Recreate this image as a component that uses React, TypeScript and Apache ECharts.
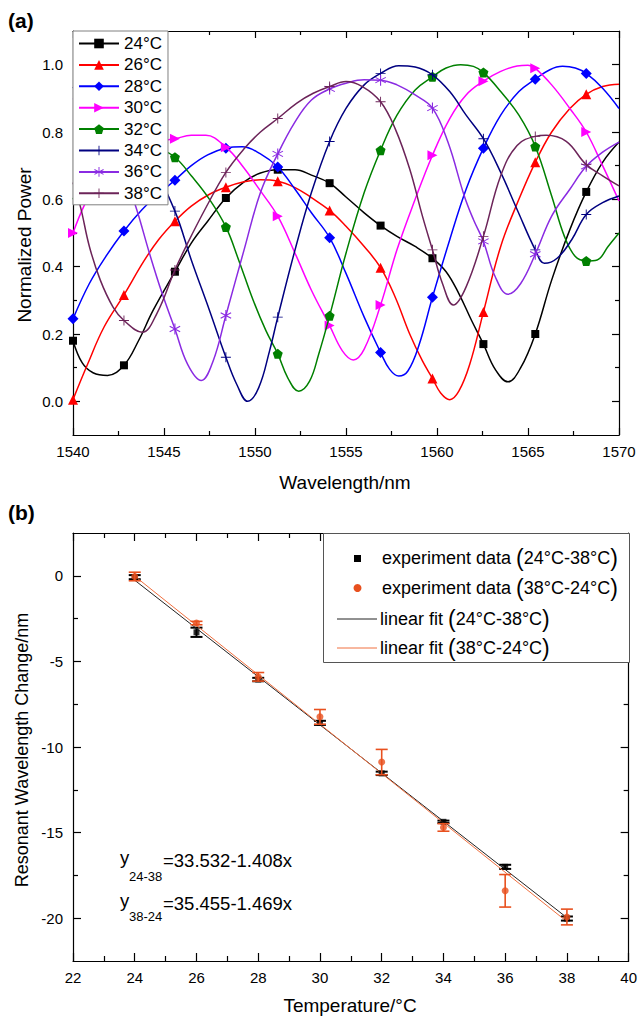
import React, { useEffect, useRef } from 'react';
import * as echarts from 'echarts';

const FONT = "'Liberation Sans', Arial, Helvetica, sans-serif";

// ---------- (a) spectra ----------
const MARKER_X = [1540, 1542.8, 1545.6, 1548.4, 1551.25, 1554.1, 1556.9, 1559.75, 1562.55, 1565.4, 1568.2];

const C24 = [[1540,0.18],[1540.5,0.115],[1541.1,0.085],[1541.9,0.077],[1542.8,0.107],[1543.6,0.18],[1544.4,0.27],[1545.6,0.385],[1546.5,0.47],[1547.4,0.535],[1548.4,0.604],[1549.4,0.652],[1550.3,0.678],[1551.25,0.688],[1552.2,0.688],[1553.1,0.672],[1554.1,0.648],[1555,0.607],[1556,0.56],[1556.9,0.522],[1557.8,0.49],[1558.8,0.46],[1559.75,0.425],[1560.5,0.385],[1561.2,0.32],[1561.9,0.24],[1562.55,0.17],[1563.2,0.095],[1563.9,0.058],[1564.6,0.1],[1565.4,0.2],[1566.3,0.36],[1567.3,0.51],[1568.2,0.622],[1569.1,0.71],[1570,0.77]];
const C26 = [[1540,0.005],[1540.8,0.11],[1541.7,0.22],[1542.8,0.316],[1543.9,0.417],[1544.7,0.48],[1545.6,0.535],[1546.5,0.58],[1547.5,0.615],[1548.4,0.636],[1549.4,0.652],[1550.3,0.658],[1551.25,0.654],[1552.2,0.635],[1553.1,0.605],[1554.1,0.567],[1555,0.52],[1556,0.46],[1556.9,0.397],[1557.7,0.31],[1558.5,0.2],[1559.2,0.12],[1559.75,0.068],[1560.2,0.025],[1560.7,0.005],[1561.2,0.03],[1561.8,0.11],[1562.55,0.265],[1563.5,0.46],[1564.5,0.6],[1565.4,0.71],[1566.3,0.8],[1567.3,0.87],[1568.2,0.912],[1569.1,0.935],[1570,0.942]];
const C28 = [[1540,0.245],[1540.9,0.35],[1541.8,0.43],[1542.8,0.506],[1543.8,0.57],[1544.7,0.615],[1545.6,0.657],[1546.5,0.7],[1547.4,0.732],[1548.4,0.752],[1549.3,0.756],[1550.3,0.735],[1551.25,0.696],[1552.2,0.63],[1553.1,0.56],[1554.1,0.486],[1555,0.38],[1556,0.25],[1556.9,0.145],[1557.4,0.095],[1557.9,0.075],[1558.4,0.09],[1559,0.165],[1559.75,0.309],[1560.7,0.48],[1561.6,0.63],[1562.55,0.752],[1563.5,0.85],[1564.5,0.92],[1565.4,0.957],[1566.2,0.985],[1566.9,0.995],[1567.6,0.99],[1568.2,0.974],[1569.1,0.93],[1570,0.87]];
const C30 = [[1540,0.5],[1540.6,0.58],[1541.5,0.67],[1542.8,0.735],[1544,0.765],[1545.6,0.78],[1546.5,0.79],[1547.3,0.79],[1548.4,0.755],[1549.3,0.7],[1550.3,0.625],[1551.25,0.55],[1552.2,0.44],[1553.1,0.33],[1554.1,0.225],[1554.8,0.15],[1555.4,0.123],[1556,0.155],[1556.9,0.286],[1557.8,0.45],[1558.8,0.6],[1559.75,0.731],[1560.7,0.84],[1561.6,0.91],[1562.55,0.951],[1563.5,0.98],[1564.4,0.996],[1565,0.998],[1565.4,0.989],[1566.3,0.94],[1567.3,0.87],[1568.2,0.8],[1569.1,0.7],[1570,0.595]];
const C32 = [[1540,0.6],[1541,0.7],[1542.2,0.76],[1542.8,0.772],[1543.6,0.775],[1544.6,0.755],[1545.6,0.725],[1546.5,0.67],[1547.5,0.6],[1548.4,0.518],[1549.1,0.42],[1549.9,0.3],[1550.6,0.21],[1551.25,0.141],[1551.8,0.07],[1552.4,0.03],[1553,0.06],[1553.5,0.14],[1554.1,0.254],[1555,0.44],[1556,0.62],[1556.9,0.746],[1557.8,0.85],[1558.8,0.925],[1559.75,0.964],[1560.5,0.99],[1561.3,1.0],[1562,0.995],[1562.55,0.977],[1563.5,0.92],[1564.5,0.85],[1565.4,0.757],[1566.3,0.61],[1567,0.49],[1567.6,0.43],[1568.2,0.417],[1568.8,0.42],[1569.4,0.46],[1570,0.5]];
const C34 = [[1540,0.93],[1540.9,0.97],[1541.7,0.97],[1542.8,0.88],[1544,0.75],[1545.6,0.565],[1546.5,0.42],[1547.5,0.27],[1548.4,0.131],[1549,0.05],[1549.6,0.0],[1550.2,0.04],[1550.8,0.15],[1551.25,0.25],[1552.2,0.45],[1553.1,0.62],[1554.1,0.772],[1555,0.87],[1556,0.94],[1556.9,0.974],[1557.9,0.997],[1558.8,0.993],[1559.75,0.97],[1560.7,0.92],[1561.6,0.85],[1562.55,0.78],[1563.5,0.68],[1564.4,0.57],[1565.4,0.45],[1565.9,0.41],[1566.6,0.425],[1567.4,0.48],[1568.2,0.555],[1569.1,0.59],[1570,0.61]];
const C36 = [[1540,0.9],[1541.3,0.84],[1542.3,0.74],[1542.8,0.68],[1543.5,0.57],[1544.2,0.44],[1544.9,0.32],[1545.6,0.215],[1546.3,0.11],[1547.05,0.062],[1547.7,0.12],[1548.4,0.255],[1549.4,0.45],[1550.3,0.62],[1551.25,0.735],[1552.2,0.83],[1553.1,0.895],[1554.1,0.928],[1555,0.945],[1556,0.955],[1556.9,0.954],[1557.8,0.94],[1558.8,0.91],[1559.75,0.871],[1560.6,0.77],[1561.5,0.61],[1562,0.54],[1562.55,0.475],[1563.2,0.37],[1563.9,0.318],[1564.6,0.35],[1565.4,0.437],[1566.3,0.55],[1567.3,0.63],[1568.2,0.698],[1569.1,0.74],[1570,0.77]];
const C38 = [[1540,0.65],[1540.4,0.58],[1540.9,0.46],[1541.5,0.36],[1542.2,0.28],[1542.8,0.24],[1543.8,0.205],[1544.6,0.26],[1545.6,0.39],[1546.3,0.47],[1547.3,0.575],[1548.4,0.68],[1549.4,0.75],[1550.3,0.8],[1551.25,0.84],[1552.3,0.886],[1553.2,0.915],[1554.1,0.935],[1555,0.95],[1555.9,0.935],[1556.9,0.89],[1557.7,0.81],[1558.5,0.69],[1559.2,0.55],[1559.75,0.45],[1560.3,0.35],[1560.9,0.286],[1561.6,0.34],[1562.55,0.49],[1563.5,0.67],[1564.4,0.76],[1565.4,0.787],[1566,0.79],[1567.1,0.772],[1568.2,0.703],[1569.1,0.67],[1570,0.64]];

const SPECTRA_NAMES = ['24°C', '26°C', '28°C', '30°C', '32°C', '34°C', '36°C', '38°C'];
const SPECTRA_DATA = [C24, C26, C28, C30, C32, C34, C36, C38];
// whether the curve shows its symbol at the first wavelength (1540 nm)
const START_MARKER = [true, true, true, true, false, false, false, false];

const A_X_TICKS = { min: 1540, max: 1570, interval: 5 };
const A_Y_MAJOR = [0, 0.2, 0.4, 0.6, 0.8, 1.0];
const A_Y_MINOR = [0.1, 0.3, 0.5, 0.7, 0.9];

// ---------- (b) temperature ----------
const TEMPS = [24, 26, 28, 30, 32, 34, 36, 38];
const UP_MEAN = [-0.08, -3.3, -6.06, -8.59, -11.54, -14.37, -17.0, -20.02];
const UP_ERR = [0.12, 0.27, 0.1, 0.12, 0.1, 0.07, 0.12, 0.12];
const DOWN_MEAN = [-0.04, -2.76, -5.9, -8.24, -10.88, -14.7, -18.4, -19.93];
const DOWN_ERR = [0.25, 0.1, 0.25, 0.43, 0.74, 0.22, 0.95, 0.46];
const FIT_UP = [[24, -0.26], [38, -19.97]];
const FIT_DOWN = [[24, -0.02], [38, -20.2]];
const B_Y_MAJOR = [-20, -15, -10, -5, 0];
const B_Y_MINOR = [-17.5, -12.5, -7.5, -2.5];

// ---------- styles ----------
const PENTAGON = 'path://M0,-1L0.951,-0.309L0.588,0.809L-0.588,0.809L-0.951,-0.309Z';
const RIGHT_TRI = 'path://M-0.8,-1L1,0L-0.8,1Z';
const PLUS = 'path://M-1,-0.09L1,-0.09L1,0.09L-1,0.09Z M-0.09,-1L0.09,-1L0.09,1L-0.09,1Z';
const STAR = 'path://M-0.09,1L0.09,1L0.09,-1L-0.09,-1Z M0.82,0.58L0.91,0.42L-0.82,-0.58L-0.91,-0.42Z M-0.91,0.42L-0.82,0.58L0.91,-0.42L0.82,-0.58Z';
const SPECTRA_STYLE = [
  { color: '#000000', symbol: 'rect', size: 8 },
  { color: '#ff0000', symbol: 'triangle', size: 10 },
  { color: '#0000ff', symbol: 'diamond', size: 11 },
  { color: '#ff00ff', symbol: RIGHT_TRI, size: 10 },
  { color: '#008000', symbol: PENTAGON, size: 10 },
  { color: '#000080', symbol: PLUS, size: 10 },
  { color: '#8a2be2', symbol: STAR, size: 11 },
  { color: '#6c2459', symbol: PLUS, size: 10 },
];
const ORANGE = '#e8501e';
const AX = { color: '#000', width: 1.2 };

const isMarker = (x: number, withStart: boolean) =>
  MARKER_X.some((m) => Math.abs(m - x) < 0.001) && (withStart || Math.abs(x - MARKER_X[0]) > 0.001);

function xPair(grid: number, min: number, max: number, interval: number, major: number, minor: number) {
  const base: any = {
    type: 'value', gridIndex: grid, min, max, interval,
    splitLine: { show: false },
    axisLine: { show: true, onZero: false, lineStyle: AX },
    axisTick: { show: true, inside: true, length: major, lineStyle: AX },
    minorTick: { show: true, splitNumber: 2, length: minor, lineStyle: AX },
    minorSplitLine: { show: false },
  };
  return [
    { ...base, position: 'bottom', axisLabel: { show: true, margin: 9, fontSize: 15, color: '#000', fontFamily: FONT, formatter: (v: number) => String(v) } },
    { ...base, position: 'top', axisLabel: { show: false } },
  ];
}

function yQuad(grid: number, min: number, max: number, majorV: number[], minorV: number[], major: number, minor: number, fmt: (v: number) => string) {
  const common: any = { type: 'value', gridIndex: grid, min, max, splitLine: { show: false } };
  const mk = (pos: string, vals: number[], len: number, line: boolean, label: boolean) => ({
    ...common,
    position: pos,
    axisLine: { show: line, onZero: false, lineStyle: AX },
    axisTick: { show: true, inside: true, length: len, lineStyle: AX, customValues: vals },
    axisLabel: label
      ? { show: true, customValues: vals, margin: 10, fontSize: 15, color: '#000', fontFamily: FONT, formatter: fmt }
      : { show: false },
  });
  return [
    mk('left', majorV, major, true, true),
    mk('left', minorV, minor, false, false),
    mk('right', majorV, major, true, false),
    mk('right', minorV, minor, false, false),
  ];
}

function errRender(color: string, width: number) {
  return (params: any, api: any) => {
    const x = api.value(0);
    const lo = api.coord([x, api.value(1)]);
    const hi = api.coord([x, api.value(2)]);
    const hw = 6;
    const st = { stroke: color, lineWidth: width };
    return {
      type: 'group',
      children: [
        { type: 'line', shape: { x1: lo[0], y1: lo[1], x2: hi[0], y2: hi[1] }, style: st },
        { type: 'line', shape: { x1: lo[0] - hw, y1: lo[1], x2: lo[0] + hw, y2: lo[1] }, style: st },
        { type: 'line', shape: { x1: hi[0] - hw, y1: hi[1], x2: hi[0] + hw, y2: hi[1] }, style: st },
      ],
    };
  };
}

function buildOption(): any {
  const spectraSeries = SPECTRA_NAMES.map((name, i) => {
    const s = SPECTRA_STYLE[i];
    return {
      type: 'line', name, xAxisIndex: 0, yAxisIndex: 0,
      smooth: 0.4, symbol: s.symbol, symbolSize: s.size, showSymbol: true, showAllSymbol: true,
      lineStyle: { color: s.color, width: 1.5 }, itemStyle: { color: s.color },
      data: SPECTRA_DATA[i].map(([x, y]) => (isMarker(x, START_MARKER[i]) ? [x, y] : { value: [x, y], symbol: 'none' })),
      silent: true, emphasis: { disabled: true }, z: 2 + i * 0.01,
    };
  });

  const bSeries = [
    { type: 'line', name: 'fitUp', xAxisIndex: 2, yAxisIndex: 4, data: FIT_UP, showSymbol: false, symbol: 'none', lineStyle: { color: '#222', width: 1 }, silent: true },
    { type: 'line', name: 'fitDown', xAxisIndex: 2, yAxisIndex: 4, data: FIT_DOWN, showSymbol: false, symbol: 'none', lineStyle: { color: '#f07040', width: 1 }, silent: true },
    { type: 'custom', name: 'errUp', xAxisIndex: 2, yAxisIndex: 4, encode: { x: 0, y: [1, 2] },
      data: TEMPS.map((t, i) => [t, UP_MEAN[i] - UP_ERR[i], UP_MEAN[i] + UP_ERR[i]]), renderItem: errRender('#000', 2), silent: true, z: 3 },
    { type: 'scatter', name: 'up', xAxisIndex: 2, yAxisIndex: 4, symbol: 'rect', symbolSize: 6, itemStyle: { color: '#000' },
      data: TEMPS.map((t, i) => [t, UP_MEAN[i]]), silent: true, z: 4 },
    { type: 'custom', name: 'errDown', xAxisIndex: 2, yAxisIndex: 4, encode: { x: 0, y: [1, 2] },
      data: TEMPS.map((t, i) => [t, DOWN_MEAN[i] - DOWN_ERR[i], DOWN_MEAN[i] + DOWN_ERR[i]]), renderItem: errRender(ORANGE, 1.6), silent: true, z: 5 },
    { type: 'scatter', name: 'down', xAxisIndex: 2, yAxisIndex: 4, symbol: 'circle', symbolSize: 7, itemStyle: { color: ORANGE },
      data: TEMPS.map((t, i) => [t, DOWN_MEAN[i]]), silent: true, z: 6 },
  ];

  const txt = (text: string, x: number, y: number, size: number, extra: any = {}) => ({
    type: 'text', x, y, z: 100,
    style: { text, fontSize: size, fontFamily: FONT, fill: '#000', textAlign: 'left', textVerticalAlign: 'middle', align: 'left', verticalAlign: 'middle', ...extra },
  });
  const centered = (text: string, x: number, y: number, size: number, rot = 0, extra: any = {}) => ({
    type: 'text', x, y, rotation: rot, z: 100,
    style: { text, fontSize: size, fontFamily: FONT, fill: '#000', textAlign: 'center', textVerticalAlign: 'middle', align: 'center', verticalAlign: 'middle', ...extra },
  });
  const rich = {
    t: { fontSize: 18, fontFamily: FONT, fill: '#000' },
    p: { fontSize: 23, fontFamily: FONT, fill: '#000' },
  };
  const legRow = (text: string, y: number, x: number) => ({
    type: 'text', x, y, z: 101,
    style: { text, rich, fontSize: 18, fontFamily: FONT, fill: '#000', textAlign: 'left', textVerticalAlign: 'middle', align: 'left', verticalAlign: 'middle' },
  });

  const graphic = [
    txt('(a)', 8, 20, 21, { fontWeight: 'bold' }),
    txt('(b)', 8, 512, 21, { fontWeight: 'bold' }),
    centered('Normalized Power', 24, 245, 19, Math.PI / 2),
    centered('Wavelength/nm', 345, 482, 19),
    centered('Resonant Wavelength Change/nm', 22, 750, 18, Math.PI / 2),
    centered('Temperature/°C', 350, 1005, 19),
    txt('y', 120, 857, 18.5),
    txt('24-38', 129, 876, 13),
    txt('=33.532-1.408x', 163, 860, 18.5),
    txt('y', 120, 900, 18.5),
    txt('38-24', 129, 916, 13),
    txt('=35.455-1.469x', 163, 903, 18.5),
    { type: 'rect', z: 99, shape: { x: 323.5, y: 533.5, width: 306, height: 129 }, style: { fill: '#fff', stroke: '#555', lineWidth: 1 } },
    { type: 'rect', z: 101, shape: { x: 354, y: 555, width: 7, height: 7 }, style: { fill: '#000' } },
    { type: 'circle', z: 101, shape: { cx: 357.5, cy: 588, r: 4 }, style: { fill: ORANGE } },
    { type: 'line', z: 101, shape: { x1: 337, y1: 619, x2: 377, y2: 619 }, style: { stroke: '#222', lineWidth: 1 } },
    { type: 'line', z: 101, shape: { x1: 337, y1: 648, x2: 377, y2: 648 }, style: { stroke: '#f07040', lineWidth: 1 } },
    legRow('{t|experiment data }{p|(}{t|24°C-38°C}{p|)}', 558, 382),
    legRow('{t|experiment data }{p|(}{t|38°C-24°C}{p|)}', 588, 382),
    legRow('{t|linear fit }{p|(}{t|24°C-38°C}{p|)}', 619, 380),
    legRow('{t|linear fit }{p|(}{t|38°C-24°C}{p|)}', 648, 380),
  ];

  return {
    animation: false,
    backgroundColor: '#fff',
    textStyle: { fontFamily: FONT },
    grid: [
      { left: 73, top: 31, width: 546, height: 404, containLabel: false },
      { left: 73, top: 533, width: 557, height: 428, containLabel: false },
    ],
    xAxis: [
      ...xPair(0, A_X_TICKS.min, A_X_TICKS.max, A_X_TICKS.interval, 7, 4),
      ...xPair(1, 22, 40, 2, 8, 5),
    ],
    yAxis: [
      ...yQuad(0, -0.1, 1.1, A_Y_MAJOR, A_Y_MINOR, 7, 4, (v: number) => v.toFixed(1)),
      ...yQuad(1, -22.5, 2.5, B_Y_MAJOR, B_Y_MINOR, 8, 5, (v: number) => String(v)),
    ],
    legend: [{
      data: SPECTRA_NAMES, orient: 'vertical', left: 73, top: 31,
      itemWidth: 40, itemHeight: 12, itemGap: 4.4,
      padding: [4, 6, 3, 5], borderColor: '#808080', borderWidth: 1, backgroundColor: '#fff',
      selectedMode: false,
      textStyle: { fontSize: 17, color: '#000', fontFamily: FONT, lineHeight: 17 },
    }],
    graphic,
    series: [...spectraSeries, ...bSeries],
  };
}

export default function App() {
  const ref = useRef<HTMLDivElement>(null);
  useEffect(() => {
    const chart = echarts.init(ref.current as HTMLDivElement, null, { renderer: 'svg' });
    chart.setOption(buildOption());
    return () => chart.dispose();
  }, []);
  return <div ref={ref} style={{ position: 'absolute', left: 0, top: 0, width: 640, height: 1025, background: '#fff' }} />;
}
